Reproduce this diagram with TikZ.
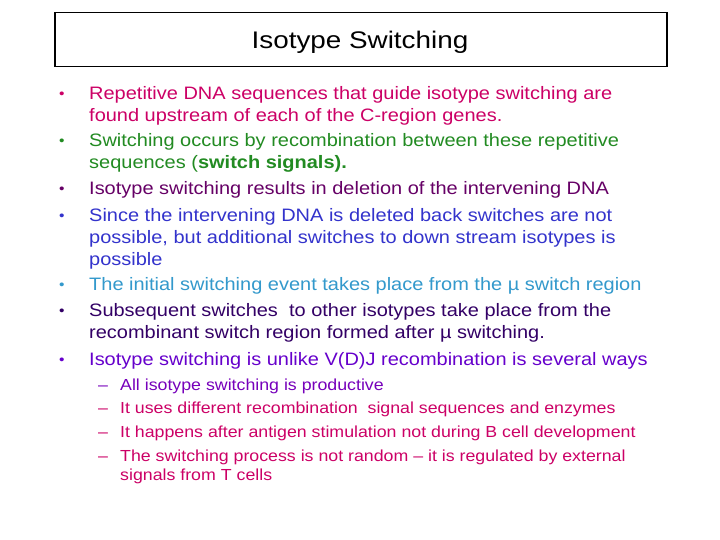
\documentclass[tikz,border=0pt]{standalone}
\usepackage{fontspec}
\setmainfont{Liberation Sans}[FakeStretch=1.11]
\newfontfamily\titlefont{Liberation Sans}[FakeStretch=1.16]
\definecolor{cA}{HTML}{CC0066}
\definecolor{cB}{HTML}{228B22}
\definecolor{cC}{HTML}{660066}
\definecolor{cD}{HTML}{3333CC}
\definecolor{cE}{HTML}{3399CC}
\definecolor{cF}{HTML}{330066}
\definecolor{cG}{HTML}{6600CC}
\definecolor{cH}{HTML}{7700BB}
\begin{document}
\begin{tikzpicture}[x=1pt,y=-1pt,
  ln/.style={anchor=base west,inner sep=0pt,font=\fontsize{18}{20}\selectfont},
  sl/.style={anchor=base west,inner sep=0pt,font=\fontsize{16}{18}\selectfont},
  bl/.style={anchor=base west,inner sep=0pt,font=\fontsize{14}{16}\selectfont}]
\useasboundingbox (0,0) rectangle (720,540);
\fill[white] (0,0) rectangle (720,540);
\node[draw,line width=1.5pt,minimum width=612pt,minimum height=54pt,anchor=north west,inner sep=0pt] (title) at (54,12) {};
\node[anchor=base,inner sep=0pt,font=\titlefont\fontsize{24}{26}\selectfont] (tt) at (360,48.5) {Isotype Switching};
% bullets
\foreach \y/\c in {99.5/cA,146.5/cB,194.5/cC,221.5/cD,290.5/cE,316.5/cF,365.5/cG}
  \node[bl,text=\c] at (59,\y-1) {•};
\node[ln,text=cA] (a1) at (89,99.5) {Repetitive DNA sequences that guide isotype switching are};
\node[ln,text=cA] (a2) at (89,121.5) {found upstream of each of the C-region genes.};
\node[ln,text=cB] (b1) at (89,146.5) {Switching occurs by recombination between these repetitive};
\node[ln,text=cB] (b2) at (89,168.5) {sequences (\textbf{switch signals).}};
\node[ln,text=cC] (c1) at (89,194.5) {Isotype switching results in deletion of the intervening DNA};
\node[ln,text=cD] (d1) at (89,221.5) {Since the intervening DNA is deleted back switches are not};
\node[ln,text=cD] (d2) at (89,243.5) {possible, but additional switches to down stream isotypes is};
\node[ln,text=cD] (d3) at (89,265.5) {possible};
\node[ln,text=cE] (e1) at (89,290.5) {The initial switching event takes place from the µ switch region};
\node[ln,text=cF] (f1) at (89,316.5) {Subsequent switches\ \ to other isotypes take place from the};
\node[ln,text=cF] (f2) at (89,338.5) {recombinant switch region formed after µ switching.};
\node[ln,text=cG] (g1) at (89,365.5) {Isotype switching is unlike V(D)J recombination is several ways};
% sub bullets
\foreach \y/\c in {390/cH,413/cA,437/cA,461/cA}
  \node[sl,text=\c] at (98,\y) {–};
\node[sl,text=cH] (s1) at (120,390) {All isotype switching is productive};
\node[sl,text=cA] (s2) at (120,413) {It uses different recombination\ \ signal sequences and enzymes};
\node[sl,text=cA] (s3) at (120,437) {It happens after antigen stimulation not during B cell development};
\node[sl,text=cA] (s4) at (120,461) {The switching process is not random – it is regulated by external};
\node[sl,text=cA] (s5) at (120,480) {signals from T cells};
\end{tikzpicture}
\end{document}
